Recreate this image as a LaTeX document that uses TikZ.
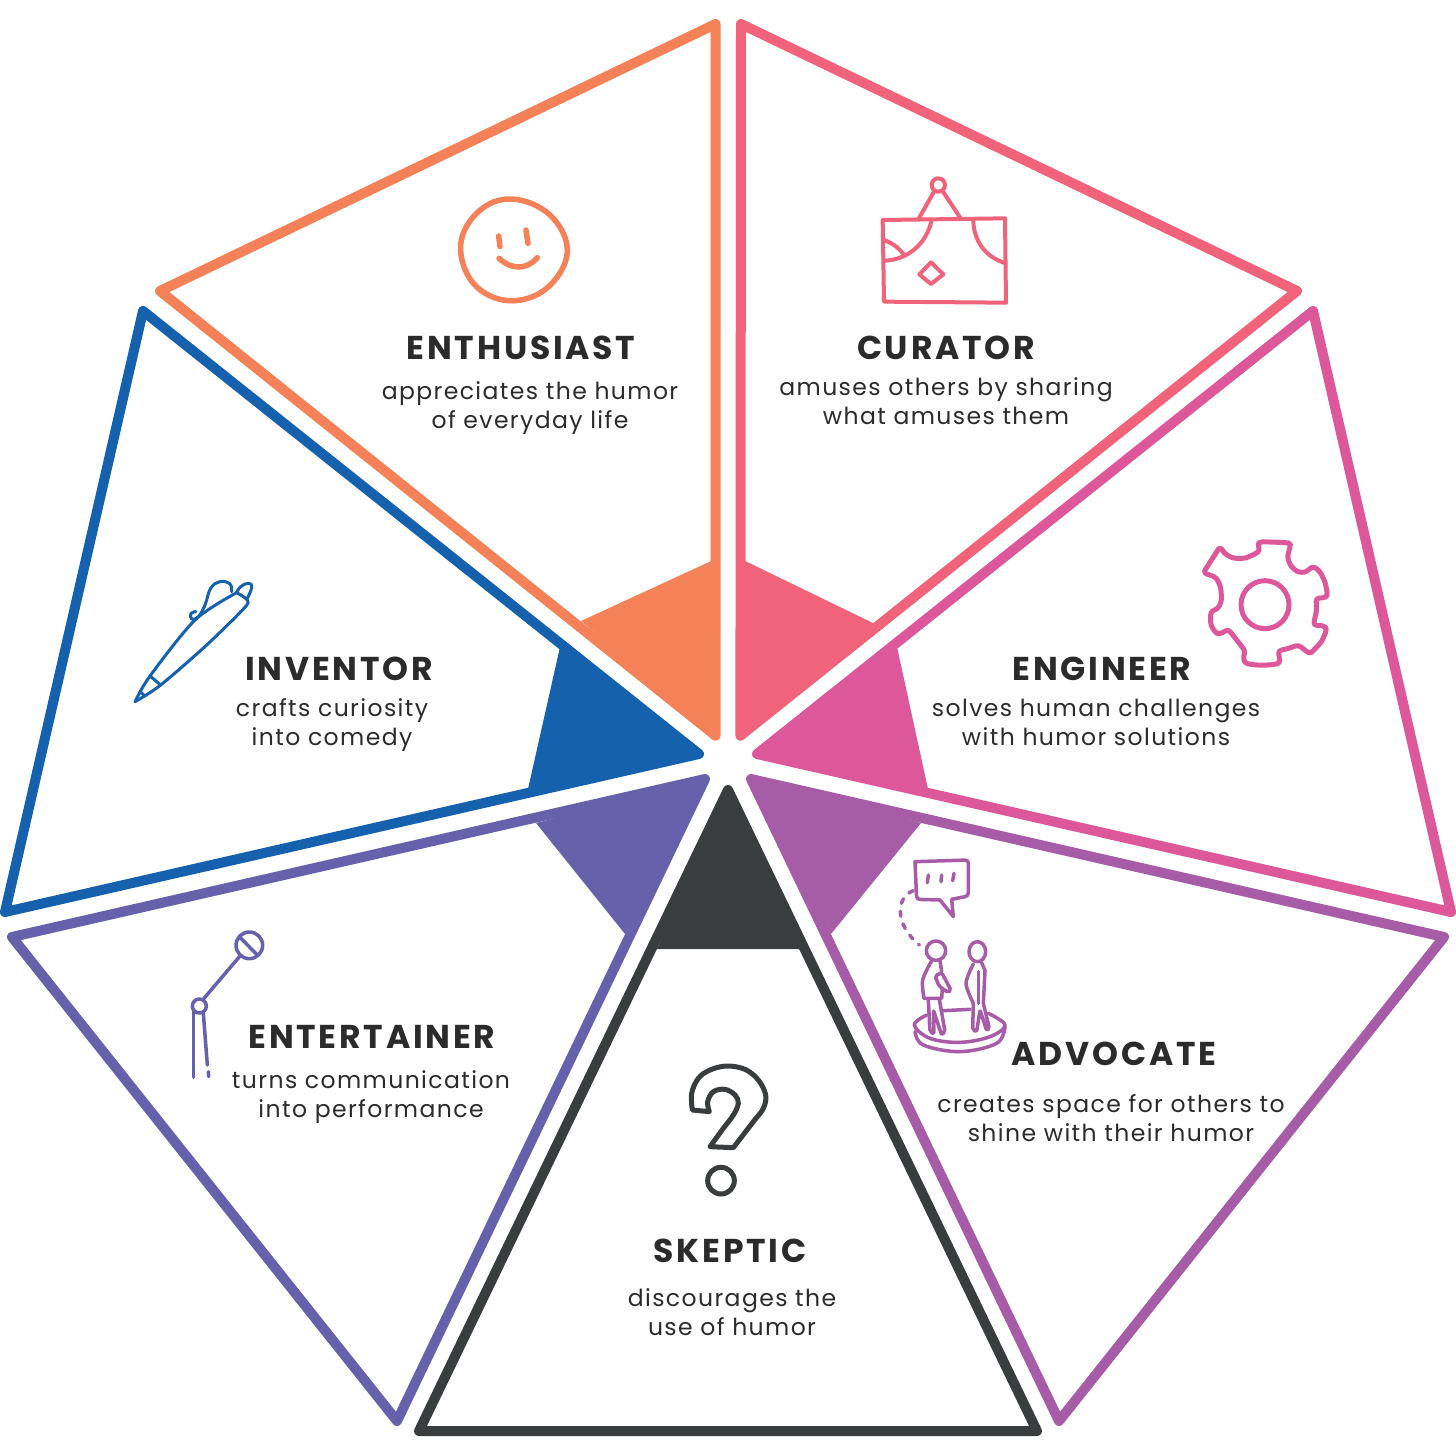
\documentclass[tikz,border=0pt]{standalone}
\usepackage{fontspec}
\setmainfont{Poppins}
\newfontfamily\titlefont[LetterSpace=8.4]{Poppins}
\newfontfamily\bodyfont[LetterSpace=6]{Poppins}
\definecolor{cOrange}{HTML}{F58158}
\definecolor{cCurator}{HTML}{F0637A}
\definecolor{cEngineer}{HTML}{DC589B}
\definecolor{cAdvocate}{HTML}{A65CA6}
\definecolor{cSkeptic}{HTML}{3A3D3D}
\definecolor{cEnter}{HTML}{6561AB}
\definecolor{cInventor}{HTML}{1661AD}
\definecolor{cText}{HTML}{2B2B2B}
\tikzset{
  slice/.style={line width=10pt,line join=round,fill=white},
  wedge/.style={draw=none},
  icon/.style={line join=round,line cap=round,fill=none},
  heading/.style={font=\titlefont\fontsize{33}{38}\selectfont\bfseries,text=cText,inner sep=0pt},
  blurb/.style={font=\bodyfont\fontsize{23.5}{29}\selectfont,text=cText,inner sep=0pt,align=center},
}
\begin{document}
\begin{tikzpicture}[x=1pt,y=-1pt]
\useasboundingbox (0,0) rectangle (1456,1456);
\fill[white] (0,0) rectangle (1456,1456);
% slices
\draw[slice,draw=cOrange] (715.6,24) -- (160,291) -- (715.6,735.7) -- cycle;
\fill[wedge,cOrange] (715.6,559) -- (581,621) -- (715.6,735.7) -- cycle;
\draw[slice,draw=cCurator] (741,24) -- (1297,291) -- (740.4,735.7) -- cycle;
\fill[wedge,cCurator] (741,559) -- (875,624) -- (740.4,735.7) -- cycle;
\draw[slice,draw=cEngineer] (1313,311) -- (1451,912) -- (757,754) -- cycle;
\fill[wedge,cEngineer] (897,647) -- (928,789) -- (757,754) -- cycle;
\draw[slice,draw=cAdvocate] (1444,937) -- (1059,1421) -- (751,779) -- cycle;
\fill[wedge,cAdvocate] (921,823) -- (831,934) -- (751,779) -- cycle;
\draw[slice,draw=cSkeptic] (728,790) -- (1037,1431) -- (419,1431) -- cycle;
\fill[wedge,cSkeptic] (728,790) -- (800,949) -- (657,949) -- cycle;
\draw[slice,draw=cEnter] (705,779) -- (397,1421) -- (12,937) -- cycle;
\fill[wedge,cEnter] (705,779) -- (625,934) -- (536,823) -- cycle;
\draw[slice,draw=cInventor] (699,754) -- (5,912) -- (143,311) -- cycle;
\fill[wedge,cInventor] (699,754) -- (528,789) -- (560,647) -- cycle;
% smiley
\begin{scope}[shift={(450,190)},scale=1/3,icon,draw=cOrange,line width=5.5pt]
\draw plot[smooth cycle,tension=.65] coordinates {(185,27) (300,75) (352,185) (290,295) (175,332) (70,280) (32,165) (85,65)};
\draw (146,138) -- (150,170);
\draw (228,120) -- (234,160);
\draw (147,205) .. controls (185,240) and (230,240) .. (262,203);
\end{scope}
% curtain
\begin{scope}[shift={(860,160)},scale=1/3,icon,draw=cCurator,line width=4pt]
\draw (68,180) -- (435,175) -- (438,428) -- (72,425) -- cycle;
\draw (235,75) circle (20);
\draw (175,178) -- (222,95);
\draw (302,175) -- (247,92);
\draw (215,180) .. controls (200,250) and (145,300) .. (72,302);
\draw (72,240) .. controls (100,250) and (120,268) .. (130,282);
\draw (340,180) .. controls (340,240) and (375,290) .. (432,308);
\draw (213,307) -- (250,343) -- (213,372) -- (178,343) -- cycle;
\end{scope}
% gear
\begin{scope}[shift={(1190,530)},scale=1/3,icon,draw=cEngineer,line width=5pt]
\draw[rounded corners=3pt] (90,50) -- (105,72) -- (130,85) -- (165,85) -- (195,72) -- (210,62) -- (203,45) -- (210,35) -- (295,38) -- (302,45) -- (292,80) -- (300,105) -- (320,125) -- (345,128) -- (370,108) -- (390,125) -- (405,155) -- (413,195) -- (405,203) -- (378,205) -- (380,240) -- (370,285) -- (405,288) -- (410,300) -- (395,335) -- (360,372) -- (325,345) -- (290,357) -- (265,362) -- (270,400) -- (240,405) -- (195,405) -- (165,400) -- (160,385) -- (165,362) -- (140,330) -- (115,298) -- (90,312) -- (78,310) -- (62,285) -- (62,245) -- (85,235) -- (95,210) -- (92,170) -- (78,142) -- (40,128) -- cycle;
\draw (225,224) circle (72);
\end{scope}
% pen
\begin{scope}[shift={(120,570)},scale=1/3,icon,draw=cInventor,line width=3pt]
\draw plot[smooth,tension=.5] coordinates {(45,395) (90,318) (225,150) (350,68)};
\draw plot[smooth,tension=.5] coordinates {(45,395) (122,345) (260,225) (372,115) (382,90) (350,68)};
\draw plot[smooth,tension=.8] coordinates {(350,68) (362,50) (385,40) (395,52) (382,85)};
\draw (90,318) -- (122,345);
\draw (60,365) -- (75,378);
\draw plot[smooth,tension=.7] coordinates {(228,125) (213,130) (215,147) (235,140) (255,105) (272,55) (300,35) (330,42) (335,65)};
\end{scope}
% microphone
\begin{scope}[shift={(170,920)},scale=1/3,icon,draw=cEnter,line width=3.5pt]
\draw (238,76) circle (40);
\draw (208,50) -- (262,105);
\draw (210,108) -- (102,235);
\draw (88,258) circle (21);
\draw (70,275) -- (70,472);
\draw (100,280) -- (112,435);
\draw (115,455) -- (116,470);
\end{scope}
% advocate
\begin{scope}[shift={(880,840)},scale=1/3,icon,draw=cAdvocate,line width=3.5pt]
\draw[rounded corners=3pt] (105,65) -- (265,60) -- (265,168) -- (215,178);
\draw (215,178) -- (220,230) -- (180,180);
\draw[rounded corners=3pt] (180,180) -- (110,178) -- (105,65);
\draw (145,105) -- (142,128);
\draw (185,105) -- (183,125);
\draw (222,100) -- (218,122);
\draw[dash pattern=on 5pt off 8pt] (100,152) .. controls (50,170) and (40,250) .. (118,315);
\draw (168,332) circle (29);
\draw (292,335) ellipse (25 and 30);
\draw plot[smooth,tension=.5] coordinates {(155,362) (128,420) (132,475)};
\draw (132,475) -- (185,475) -- (187,445);
\draw (180,362) -- (185,395);
\draw[rounded corners=2pt] (165,408) -- (185,398) -- (213,450) -- (205,458) -- (177,438) -- cycle;
\draw[rounded corners=2pt] (145,480) -- (150,575) -- (162,582) -- (160,510) -- (185,585) -- (195,575) -- (178,478);
\draw plot[smooth,tension=.5] coordinates {(280,372) (258,430) (280,490)};
\draw[rounded corners=2pt] (280,490) -- (278,570) -- (290,575) -- (300,510) -- (320,572) -- (328,565) -- (310,490);
\draw (305,368) -- (315,392) -- (310,490);
\draw (295,395) -- (295,490);
\draw plot[smooth,tension=.6] coordinates {(140,525) (103,555) (150,595) (240,607) (330,590) (375,555) (325,520)};
\draw (190,512) -- (270,508);
\draw plot[smooth,tension=.6] coordinates {(105,575) (130,615) (240,635) (350,610) (375,560)};
\end{scope}
% question mark
\begin{scope}[shift={(670,1050)},scale=1/3,icon,draw=cSkeptic,line width=5pt]
\draw plot[smooth,tension=.6] coordinates {(67,180) (65,130) (85,85) (120,60) (170,48) (225,58) (265,90) (287,135) (280,175) (250,215) (190,293)} -- (120,290) -- plot[smooth,tension=.6] coordinates {(120,290) (160,235) (190,195) (205,160) (195,135) (165,118) (130,125) (113,155) (118,185)} -- cycle;
\draw (153,392) circle (40);
\end{scope}
% texts
\node[heading] (h1) at (521,348) {ENTHUSIAST};
\node[blurb] (b1) at (530,408.5) {appreciates the humor\\of everyday life};
\node[heading] (h2) at (946,348) {CURATOR};
\node[blurb] (b2) at (946,401.5) {amuses others by sharing\\what amuses them};
\node[heading] (h3) at (1102,669) {ENGINEER};
\node[blurb] (b3) at (1096,722.5) {solves human challenges\\with humor solutions};
\node[heading] (h4) at (339,669) {INVENTOR};
\node[blurb] (b4) at (332,725.5) {crafts curiosity\\into comedy};
\node[heading] (h5) at (372,1037) {ENTERTAINER};
\node[blurb] (b5) at (371,1097.5) {turns communication\\into performance};
\node[heading] (h6) at (1114,1054) {ADVOCATE};
\node[blurb] (b6) at (1111,1118.5) {creates space for others to\\shine with their humor};
\node[heading] (h7) at (730,1251) {SKEPTIC};
\node[blurb] (b7) at (732,1312.5) {discourages the\\use of humor};
\end{tikzpicture}
\end{document}
